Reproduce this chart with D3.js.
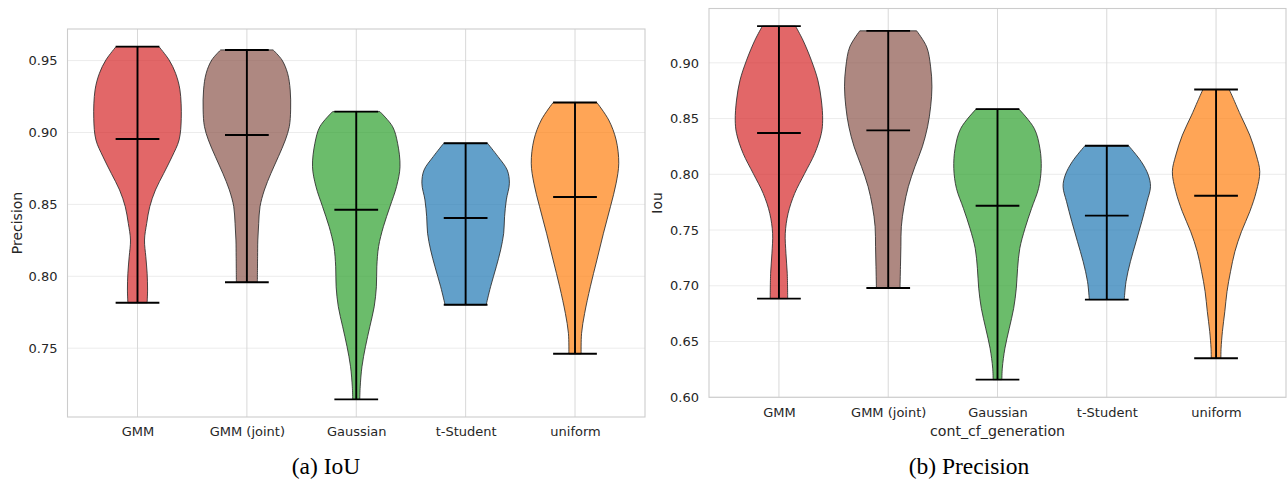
<!DOCTYPE html>
<html>
<head>
<meta charset="utf-8">
<script src="https://cdn.jsdelivr.net/npm/d3@7"></script>
<style>
  body { margin: 0; background: #ffffff; }
  svg { display: block; }
</style>
</head>
<body>
<svg id="fig" width="1287" height="482"></svg>
<script>
// ---- data -------------------------------------------------------------
const categories = ["GMM", "GMM (joint)", "Gaussian", "t-Student", "uniform"];
const colors = ["#d62728", "#8c564b", "#2ca02c", "#1f77b4", "#ff7f0e"];

const precisionTicks = [0.75, 0.80, 0.85, 0.90, 0.95];
const iouTicks = [0.60, 0.65, 0.70, 0.75, 0.80, 0.85, 0.90];

// summary statistics per generation method
const precisionMin    = [0.7816, 0.7958, 0.7144, 0.7802, 0.7461];
const precisionMedian = [0.8955, 0.8983, 0.8463, 0.8405, 0.8551];
const precisionMax    = [0.9597, 0.9574, 0.9145, 0.8925, 0.9208];

const iouMin    = [0.6885, 0.6980, 0.6158, 0.6876, 0.6350];
const iouMedian = [0.8370, 0.8394, 0.7718, 0.7629, 0.7808];
const iouMax    = [0.9329, 0.9287, 0.8585, 0.8256, 0.8761];

// kernel density outlines: [value, half-width relative to the widest point]
const precisionShapeGMM = [[0.9597,0.49],[0.9505,0.72],[0.9412,0.87],[0.9296,0.97],[0.9099,1.0],[0.8948,0.95],[0.8832,0.79],[0.8716,0.60],[0.8600,0.41],[0.8484,0.28],[0.8368,0.21],[0.8252,0.16],[0.8136,0.19],[0.8021,0.22],[0.7904,0.23],[0.7816,0.22]];
const precisionShapeGMMJoint = [[0.9574,0.60],[0.9505,0.80],[0.9412,0.93],[0.9296,0.99],[0.9157,1.0],[0.9041,0.97],[0.8948,0.88],[0.8832,0.72],[0.8716,0.55],[0.8600,0.40],[0.8484,0.30],[0.8368,0.27],[0.8252,0.25],[0.8136,0.245],[0.7958,0.24]];
const precisionShapeGaussian = [[0.9145,0.54],[0.9041,0.83],[0.8925,0.945],[0.8762,1.0],[0.8623,0.92],[0.8484,0.77],[0.8345,0.62],[0.8206,0.51],[0.8066,0.47],[0.7927,0.46],[0.7788,0.41],[0.7649,0.31],[0.7510,0.21],[0.7371,0.13],[0.7231,0.09],[0.7144,0.08]];
const precisionShapeTStudent = [[0.8925,0.50],[0.8832,0.74],[0.8739,0.95],[0.8647,1.0],[0.8531,0.93],[0.8414,0.89],[0.8299,0.87],[0.8183,0.80],[0.8066,0.70],[0.7927,0.57],[0.7802,0.47]];
const precisionShapeUniform = [[0.9208,0.50],[0.9087,0.77],[0.8948,0.94],[0.8786,1.0],[0.8647,0.94],[0.8484,0.81],[0.8299,0.65],[0.8113,0.50],[0.7927,0.35],[0.7742,0.22],[0.7603,0.15],[0.7461,0.14]];

const iouShapeGMM = [[0.9329,0.38],[0.9203,0.55],[0.9024,0.74],[0.8845,0.89],[0.8666,0.97],[0.8486,1.0],[0.8367,0.97],[0.8188,0.82],[0.8009,0.59],[0.7829,0.36],[0.7650,0.21],[0.7471,0.145],[0.7292,0.16],[0.7112,0.19],[0.6885,0.20]];
const iouShapeGMMJoint = [[0.9287,0.65],[0.9143,0.88],[0.8964,0.97],[0.8785,1.0],[0.8606,0.97],[0.8426,0.90],[0.8247,0.78],[0.8068,0.61],[0.7889,0.46],[0.7709,0.36],[0.7530,0.30],[0.7351,0.29],[0.7171,0.28],[0.6980,0.27]];
const iouShapeGaussian = [[0.8585,0.49],[0.8412,0.84],[0.8233,0.97],[0.8053,1.0],[0.7874,0.94],[0.7695,0.78],[0.7516,0.63],[0.7336,0.51],[0.7157,0.46],[0.6978,0.43],[0.6798,0.37],[0.6619,0.27],[0.6440,0.17],[0.6261,0.11],[0.6158,0.10]];
const iouShapeTStudent = [[0.8256,0.50],[0.8113,0.79],[0.7993,0.95],[0.7889,1.0],[0.7754,0.92],[0.7575,0.80],[0.7396,0.67],[0.7216,0.54],[0.7037,0.44],[0.6876,0.40]];
const iouShapeUniform = [[0.8761,0.30],[0.8710,0.36],[0.8531,0.56],[0.8352,0.77],[0.8173,0.92],[0.8023,1.0],[0.7844,0.92],[0.7664,0.77],[0.7485,0.58],[0.7306,0.43],[0.7126,0.33],[0.6947,0.25],[0.6768,0.20],[0.6589,0.145],[0.6440,0.115],[0.6350,0.11]];

// ---- drawing ----------------------------------------------------------
const svg = d3.select("#fig");
const sansFont = "'DejaVu Sans', sans-serif";
const serifFont = "'Liberation Serif', 'Times New Roman', serif";
const textColor = "#262626";

function drawPanel(opt) {
  const { left, right, top, bottom } = opt.frame;
  const g = svg.append("g");

  const x = d3.scalePoint().domain(categories).range([left, right]).padding(0.64);
  const step = x.step();

  // matplotlib-style 5% margin around the data extent
  const lo = d3.min(opt.mins), hi = d3.max(opt.maxs);
  const pad = (hi - lo) * 0.05;
  const y = d3.scaleLinear().domain([lo - pad, hi + pad]).range([bottom, top]);

  // grid
  g.append("g").selectAll("line").data(opt.ticks).join("line")
    .attr("x1", left).attr("x2", right)
    .attr("y1", d => y(d)).attr("y2", d => y(d))
    .attr("stroke", "#ececec").attr("stroke-width", 1);
  g.append("g").selectAll("line").data(categories).join("line")
    .attr("x1", d => x(d)).attr("x2", d => x(d))
    .attr("y1", top).attr("y2", bottom)
    .attr("stroke", "#d8d8d8").attr("stroke-width", 1);

  // frame
  g.append("rect")
    .attr("x", left).attr("y", top)
    .attr("width", right - left).attr("height", bottom - top)
    .attr("fill", "none").attr("stroke", "#cccccc").attr("stroke-width", 1.1);

  // violin bodies
  const halfMax = 0.4 * step;
  categories.forEach((cat, i) => {
    const cx = x(cat);
    const area = d3.area()
      .curve(d3.curveCatmullRom.alpha(0.5))
      .y(d => y(d[0]))
      .x0(d => cx - d[1] * halfMax)
      .x1(d => cx + d[1] * halfMax);
    g.append("path")
      .datum(opt.shapes[i])
      .attr("d", area)
      .attr("fill", colors[i]).attr("fill-opacity", 0.7)
      .attr("stroke", "#2b2b2b").attr("stroke-opacity", 0.85).attr("stroke-width", 1);
  });

  // extrema bars, median and range line
  const capHalf = 0.2 * step;
  categories.forEach((cat, i) => {
    const cx = x(cat);
    g.append("line")
      .attr("x1", cx).attr("x2", cx)
      .attr("y1", y(opt.mins[i])).attr("y2", y(opt.maxs[i]))
      .attr("stroke", "#000").attr("stroke-width", 1.9);
    [opt.mins[i], opt.medians[i], opt.maxs[i]].forEach(v => {
      g.append("line")
        .attr("x1", cx - capHalf).attr("x2", cx + capHalf)
        .attr("y1", y(v)).attr("y2", y(v))
        .attr("stroke", "#000").attr("stroke-width", 1.9);
    });
  });

  // y tick labels
  const yAxis = d3.axisLeft(y).tickValues(opt.ticks).tickSize(0).tickPadding(10)
    .tickFormat(d3.format(".2f"));
  const ya = g.append("g").attr("transform", `translate(${left},0)`).call(yAxis);
  ya.select(".domain").remove();
  ya.selectAll("text").attr("font-family", sansFont).attr("font-size", 13).attr("fill", textColor);

  // x tick labels
  const xAxis = d3.axisBottom(x).tickSize(0).tickPadding(10);
  const xa = g.append("g").attr("transform", `translate(0,${bottom})`).call(xAxis);
  xa.select(".domain").remove();
  xa.selectAll("text").attr("font-family", sansFont).attr("font-size", 13).attr("fill", textColor);

  // axis titles
  g.append("text")
    .attr("transform", `translate(${opt.yTitleX},${(top + bottom) / 2}) rotate(-90)`)
    .attr("text-anchor", "middle").attr("dy", "0.35em")
    .attr("font-family", sansFont).attr("font-size", 14).attr("fill", textColor)
    .text(opt.yTitle);
  if (opt.xTitle) {
    g.append("text")
      .attr("x", (left + right) / 2).attr("y", opt.xTitleY)
      .attr("text-anchor", "middle")
      .attr("font-family", sansFont).attr("font-size", 14.2).attr("fill", textColor)
      .text(opt.xTitle);
  }

  // sub-figure caption
  svg.append("text")
    .attr("x", opt.captionX).attr("y", 474)
    .attr("text-anchor", "middle")
    .attr("font-family", serifFont).attr("font-size", 23.5).attr("fill", "#000")
    .text(opt.caption);
}

drawPanel({
  frame: { left: 67.5, right: 645, top: 29, bottom: 417 },
  ticks: precisionTicks,
  mins: precisionMin, medians: precisionMedian, maxs: precisionMax,
  shapes: [precisionShapeGMM, precisionShapeGMMJoint, precisionShapeGaussian, precisionShapeTStudent, precisionShapeUniform],
  yTitle: "Precision", yTitleX: 17,
  xTitle: null,
  caption: "(a) IoU", captionX: 326
});

drawPanel({
  frame: { left: 709, right: 1286, top: 8.5, bottom: 397.3 },
  ticks: iouTicks,
  mins: iouMin, medians: iouMedian, maxs: iouMax,
  shapes: [iouShapeGMM, iouShapeGMMJoint, iouShapeGaussian, iouShapeTStudent, iouShapeUniform],
  yTitle: "Iou", yTitleX: 657,
  xTitle: "cont_cf_generation", xTitleY: 436,
  caption: "(b) Precision", captionX: 969
});
</script>
</body>
</html>
